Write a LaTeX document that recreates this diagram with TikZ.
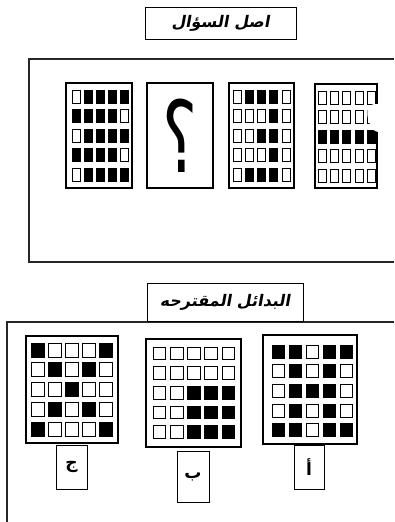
\documentclass[tikz,border=0pt]{standalone}
\usepackage{fontspec}
\TeXXeTstate=1
\newfontfamily\arabicfont[Script=Arabic]{DejaVu Sans}
\newfontfamily\arabicbold[Script=Arabic]{DejaVu Sans Bold}
\newfontfamily\arabictitle[Script=Arabic,FakeSlant=0.18]{DejaVu Sans Bold}
\newcommand{\cellgrid}[7]{%
  \foreach \rowvals [count=\r from 0] in {#7} {%
    \foreach \v [count=\c from 0] in \rowvals {%
      \ifnum\v=1 \def\cellcol{black}\else\def\cellcol{white}\fi
      \draw[cellbox, fill=\cellcol] ({#1+\c*#3},{#2+\r*#4}) rectangle ++(#5,#6);
    }%
  }%
}
\tikzset{
  frame/.style={line width=1.1pt, draw=black!85},
  gridbox/.style={line width=1.2pt, draw=black},
  cellbox/.style={line width=1pt, draw=black},
  titlebox/.style={line width=0.9pt, draw=black},
  labelbox/.style={line width=0.9pt, draw=black, inner sep=0pt},
  labeltext/.style={font=\arabicbold\fontsize{17}{17}\selectfont},
}
\begin{document}
\begin{tikzpicture}[x=1pt,y=-1pt]
\useasboundingbox (0,0) rectangle (394,522);
\fill[white] (0,0) rectangle (394,522);
% ---- question section ----
\draw[frame] (394,59) -- (29,59) -- (29,262) -- (394,262);
\node[titlebox, draw, minimum width=151pt, minimum height=32pt, inner sep=0pt] (t1) at (220.5,23)
  {\arabictitle\fontsize{16}{16}\selectfont\beginR اصل السؤال\endR};
% grid 1
\draw[gridbox] (66,83) rectangle (132,188);
\cellgrid{72}{90}{12}{19.5}{8}{13}{{0,1,1,1,1},{1,1,1,1,0},{0,1,1,1,1},{1,1,1,1,0},{0,1,1,1,1}}
% question box
\node[gridbox, draw, minimum width=66pt, minimum height=105pt, inner sep=0pt] (q) at (180,135.5) {};
\node[yscale=1.5, inner sep=0pt] (qm) at (180,136) {\arabicfont\fontsize{66}{66}\selectfont\beginR ؟\endR};
% grid 3
\draw[gridbox] (229,83) rectangle (294,188);
\cellgrid{233}{90}{12.3}{19.5}{8}{13}{{0,1,1,1,0},{0,0,0,1,0},{0,0,1,1,0},{0,0,0,1,0},{0,1,1,1,0}}
% grid 4
\draw[gridbox] (315,84) rectangle (377,188);
\cellgrid{318.5}{91}{12.2}{19.5}{8}{13}{{0,0,0,0,0},{0,0,0,0,0},{1,1,1,1,1},{0,0,0,0,0},{0,0,0,0,0}}
\fill[white] (369,106) .. controls (375,102) and (383,104) .. (387,108)
  .. controls (391,116) and (388,126) .. (382,131)
  .. controls (377,134) and (372,130) .. (370,124)
  .. controls (367,118) and (366,110) .. (369,106);
% ---- alternatives section ----
\draw[frame] (394,322) -- (7,322) -- (7,522);
\node[titlebox, draw, minimum width=156pt, minimum height=38pt, inner sep=0pt] (t2) at (225,302)
  {\arabictitle\fontsize{16}{16}\selectfont\beginR البدائل المقترحه\endR};
% option jeem
\draw[gridbox] (26,336) rectangle (118,443);
\cellgrid{31}{343}{17.2}{19.8}{13}{14}{{1,0,0,0,1},{0,1,0,1,0},{0,0,1,0,0},{0,1,0,1,0},{1,0,0,0,1}}
\node[labelbox, draw, minimum width=31pt, minimum height=44pt] (lj) at (71.5,467) {};
\node[labeltext] (ljt) at (lj) {\beginR ج\endR};
% option baa
\draw[gridbox] (146,339) rectangle (241,447);
\cellgrid{153}{347}{17.3}{19.7}{12.7}{12.7}{{0,0,0,0,0},{0,0,0,0,0},{0,0,1,1,1},{0,0,1,1,1},{0,0,1,1,1}}
\node[labelbox, draw, minimum width=32pt, minimum height=51pt] (lb) at (193,476.5) {};
\node[labeltext] (lbt) at (lb) {\beginR ب\endR};
% option alif
\draw[gridbox] (263,335) rectangle (357,444);
\cellgrid{272}{345}{17}{19.7}{12.5}{13}{{1,1,0,1,1},{0,1,0,1,0},{0,1,1,1,0},{0,1,0,1,0},{1,1,0,1,1}}
\node[labelbox, draw, minimum width=30pt, minimum height=44pt] (la) at (309,467) {};
\node[labeltext] (lat) at (la) {\beginR أ\endR};
\end{tikzpicture}
\end{document}
